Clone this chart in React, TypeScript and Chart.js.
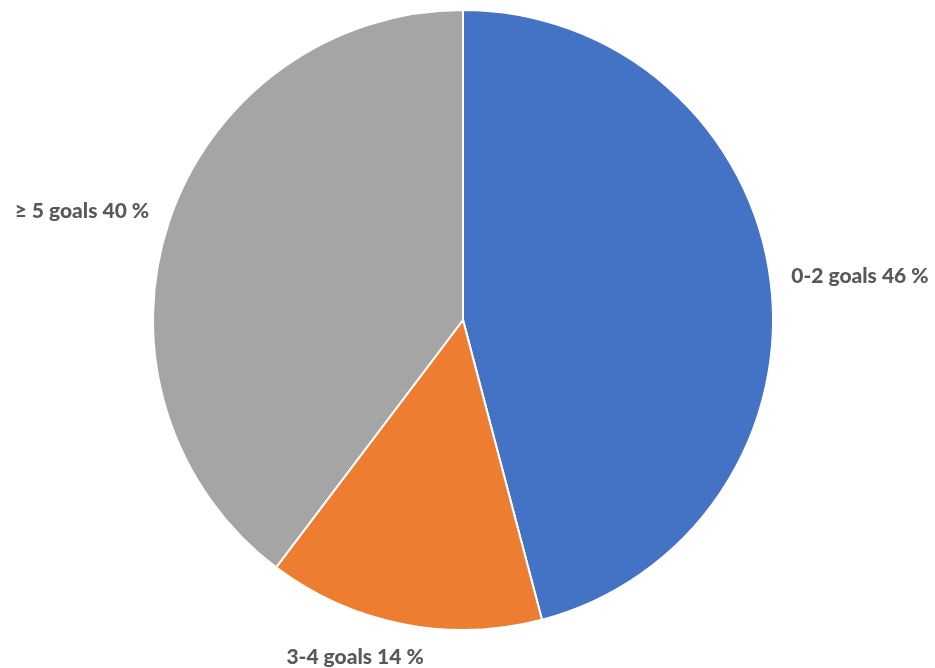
import React, { useEffect, useRef } from "react";
import { Chart, registerables } from "chart.js";

Chart.register(...registerables);

const categories = ["0-2 goals", "3-4 goals", "≥ 5 goals"];
const shares = [45.9, 14.4, 39.7];
const sliceColors = ["#4472C4", "#ED7D31", "#A5A5A5"];

const outsideLabels = {
  id: "outsideLabels",
  afterDraw(chart: any) {
    const ctx = chart.ctx;
    const meta = chart.getDatasetMeta(0);
    ctx.save();
    ctx.font = "900 21px Lato";
    ctx.fillStyle = "#595959";
    ctx.textAlign = "center";
    ctx.textBaseline = "middle";
    meta.data.forEach((arc: any, i: number) => {
      const { x, y, startAngle, endAngle, outerRadius } = arc.getProps(
        ["x", "y", "startAngle", "endAngle", "outerRadius"],
        true
      );
      const mid = (startAngle + endAngle) / 2;
      const dx = Math.cos(mid);
      const dy = Math.sin(mid);
      const r = outerRadius + 21;
      const ax = x + dx * r;
      const ay = y + dy * r;
      const text = `${categories[i]} ${Math.round(shares[i])} %`;
      const w = ctx.measureText(text).width;
      const h = 22;
      const cx = ax + Math.sign(dx) * (w / 2) * Math.min(1, Math.abs(dx) * 3.3);
      const cy = ay + dy * (h / 2) + (dy > 0.5 ? 2 : 0);
      ctx.fillText(text, cx, cy);
    });
    ctx.restore();
  },
};

export default function App() {
  const ref = useRef<HTMLCanvasElement | null>(null);
  useEffect(() => {
    document.body.style.margin = "0";
    if (!ref.current) return;
    const chart = new Chart(ref.current, {
      type: "pie",
      data: {
        labels: categories,
        datasets: [
          {
            data: shares,
            backgroundColor: sliceColors,
            borderColor: "#FFFFFF",
            borderWidth: 2,
          },
        ],
      },
      options: {
        responsive: false,
        animation: false,
        layout: { padding: { top: 9, bottom: 37, left: 149, right: 158 } },
        plugins: {
          legend: { display: false },
          tooltip: { enabled: false },
        },
      },
      plugins: [outsideLabels],
    });
    return () => chart.destroy();
  }, []);
  return (
    <div style={{ width: 935, height: 668, background: "#fff" }}>
      <canvas ref={ref} width={935} height={668} style={{ display: "block" }} />
    </div>
  );
}
